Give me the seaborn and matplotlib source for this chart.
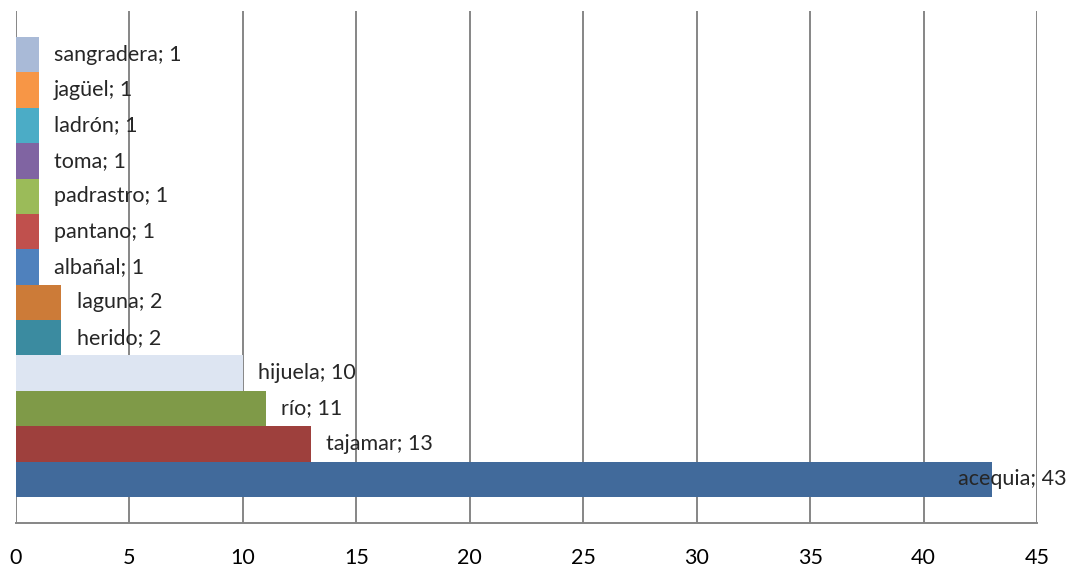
import matplotlib
matplotlib.use('Agg')
import matplotlib.pyplot as plt
import matplotlib.transforms as mtransforms
import pandas as pd
import seaborn as sns

# categories top to bottom, as drawn in the chart
categorias = ['sangradera', 'jagüel', 'ladrón', 'toma', 'padrastro', 'pantano',
              'albañal', 'laguna', 'herido', 'hijuela', 'río', 'tajamar', 'acequia']
valores = [1, 1, 1, 1, 1, 1, 1, 2, 2, 10, 11, 13, 43]
colores = ['#A9BAD7', '#F79646', '#4BACC6', '#8064A2', '#9BBB59', '#C0504D',
           '#4F81BD', '#CC7B38', '#3B8BA0', '#DDE5F2', '#7F9A48', '#9E403D', '#416A9B']
ticks_x = [0, 5, 10, 15, 20, 25, 30, 35, 40, 45]

df = pd.DataFrame({'cat': categorias, 'val': valores})

sns.set_style('white')
plt.rcParams['font.family'] = ['Lato', 'DejaVu Sans']
fs = 15.5

fig = plt.figure(figsize=(10.73, 5.67), dpi=100)
ax = fig.add_axes([16 / 1073, 1 - 523 / 567, (1037 - 16) / 1073, (523 - 11) / 567])

sns.barplot(data=df, x='val', y='cat', hue='cat', palette=colores, order=categorias,
            hue_order=categorias, dodge=False, width=1.0, legend=False, ax=ax,
            saturation=1, linewidth=0)

ax.set_xlim(0, 45)
ax.set_ylim(len(categorias) - 0.5 + 0.735, -0.5 - 0.735)
ax.set_xticks(ticks_x)
ax.set_xlabel('')
ax.set_ylabel('')
ax.set_yticks([])
ax.grid(axis='x', color='#868686', linewidth=1.4, zorder=0)
ax.set_axisbelow(True)
for s in ['top', 'right', 'left']:
    ax.spines[s].set_visible(False)
ax.spines['bottom'].set_color('#868686')
ax.spines['bottom'].set_linewidth(1.4)
ax.tick_params(axis='x', length=0, pad=18, labelsize=fs, colors='black')

# data labels: "name; value" to the right of each bar
for i, (c, v) in enumerate(zip(categorias, valores)):
    txt = f'{c}; {v}'
    if v >= 40:
        tr = mtransforms.blended_transform_factory(fig.transFigure, ax.transData)
        ax.text(1067 / 1073, i, txt, transform=tr, ha='right', va='center', fontsize=fs)
    else:
        ax.annotate(txt, (v, i), xytext=(11, 0), textcoords='offset points', ha='left',
                    va='center', fontsize=fs)

fig.savefig('out.png', dpi=100)
